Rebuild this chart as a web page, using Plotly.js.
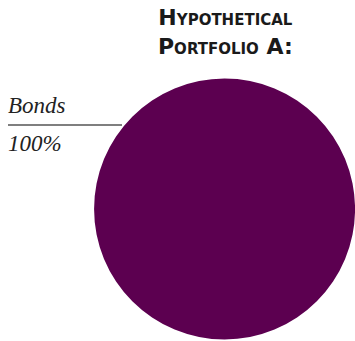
<!DOCTYPE html>
<html><head><meta charset="utf-8">
<script src="https://cdn.plot.ly/plotly-3.0.1.min.js"></script>
<style>body{margin:0;background:#fff}#c{width:355px;height:341px}</style>
</head><body><div id="c"></div>
<script>
const labels = ["Bonds"];
const values = [100];
const colors = ["#5c0050"];
const titleText = "Hypothetical<br>Portfolio A:";

const total = values.reduce((a,b)=>a+b,0);
const data = [{
  type: "pie",
  labels: labels,
  values: values,
  marker: {colors: colors, line: {width: 0}},
  textinfo: "none",
  hoverinfo: "label+percent",
  sort: false,
  showlegend: false,
  domain: {x: [0.265, 1.0], y: [0.003, 0.771]}
}];
const labelFont = {family: "Liberation Serif", size: 23, style: "italic", color: "#222"};
const layout = {
  width: 355, height: 341,
  margin: {l: 0, r: 0, t: 0, b: 0},
  paper_bgcolor: "#fff",
  annotations: [
    {text: titleText, xref: "paper", yref: "paper", x: 225/355, y: 1 - 3/341, xanchor: "center", yanchor: "top", showarrow: false,
     font: {family: "DejaVu Sans", size: 22, weight: "bold", variant: "small-caps", color: "#1a1a1a"}},
    {text: labels[0], xref: "paper", yref: "paper", x: 6/355, y: 1 - 106/341, xanchor: "left", yanchor: "middle", showarrow: false,
     font: labelFont},
    {text: Math.round(values[0] / total * 100) + "%", xref: "paper", yref: "paper", x: 6/355, y: 1 - 143/341, xanchor: "left", yanchor: "middle", showarrow: false,
     font: labelFont}
  ],
  shapes: [
    {type: "line", xref: "paper", yref: "paper", x0: 8/355, x1: 122/355, y0: 1 - 125/341, y1: 1 - 125/341, line: {color: "#555", width: 1.5}}
  ]
};
Plotly.newPlot("c", data, layout, {displayModeBar: false, staticPlot: true});
</script></body></html>
